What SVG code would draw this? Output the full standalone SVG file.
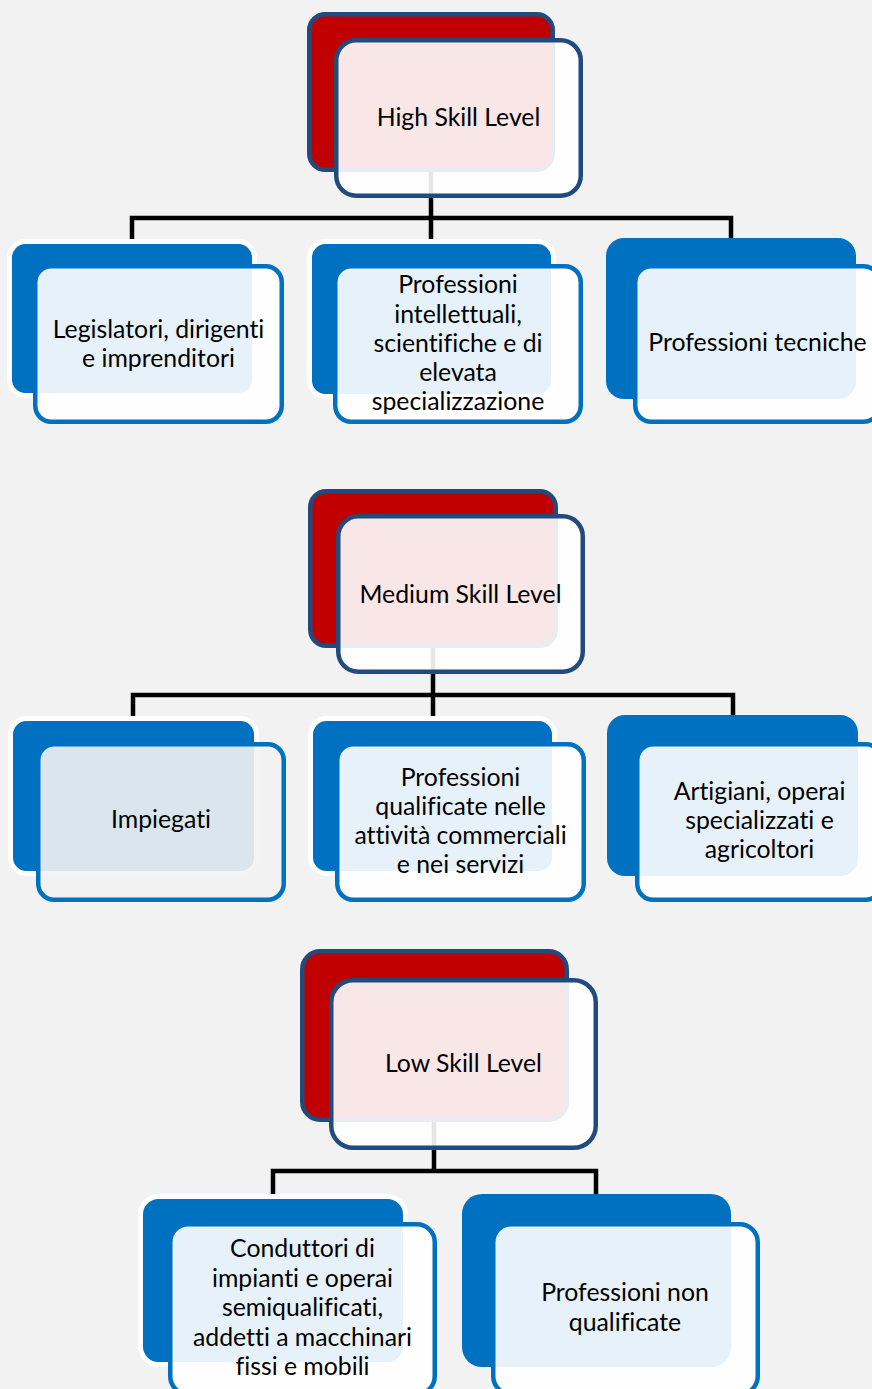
<svg xmlns="http://www.w3.org/2000/svg" width="872" height="1389" viewBox="0 0 872 1389">
<style>
.bg{fill:#f2f2f2}
.conn{fill:none;stroke:#000;stroke-width:4.5;stroke-linejoin:miter}
.hb{fill:#c00000;stroke:#234a7c;stroke-width:4.5}
.hf{fill:#fff;fill-opacity:0.9;stroke:#234a7c;stroke-width:4.5}
.cb{fill:#0070c0;stroke:#fff;stroke-width:5}
.cb2{fill:#0070c0}
.cf{fill:#fff;fill-opacity:0.9;stroke:#0070c0;stroke-width:4.5}
.cfg{fill:#f2f2f2;fill-opacity:0.9;stroke:#0070c0;stroke-width:4.5}
text{font-family:Lato,"Liberation Sans",sans-serif;font-size:24.8px;fill:#000;text-anchor:middle;font-variant-ligatures:none}
</style>
<rect class="bg" x="0" y="0" width="872" height="1389"/>
<g id="connectors">
<path class="conn" d="M431 172V218H132V242M431 218V242M431 218H731V238"/>
<path class="conn" d="M433 648V695H133V719M433 695V719M433 695H733V715"/>
<path class="conn" d="M434 1122V1171H273V1197M434 1171H596V1194"/>
</g>
<g id="high">
<rect class="hb" x="309.25" y="14.25" width="243.5" height="155.5" rx="16"/>
<rect class="hf" x="336.25" y="40.25" width="244.5" height="155.5" rx="20"/>
<text x="458.5" y="126">High Skill Level</text>
</g>
<g id="legislatori">
<rect class="cb" x="9.5" y="241.5" width="245" height="154" rx="16"/>
<rect class="cf" x="35.25" y="266.25" width="246.5" height="155.5" rx="16"/>
<text x="158.5" y="338">Legislatori, dirigenti</text>
<text x="158.5" y="367">e imprenditori</text>
</g>
<g id="intellettuali">
<rect class="cb" x="309.5" y="241.5" width="244" height="155" rx="16"/>
<rect class="cf" x="335.25" y="266.25" width="245.5" height="155.5" rx="16"/>
<text x="458" y="293">Professioni</text>
<text x="458" y="323">intellettuali,</text>
<text x="458" y="352">scientifiche e di</text>
<text x="458" y="381">elevata</text>
<text x="458" y="410">specializzazione</text>
</g>
<g id="tecniche">
<rect class="cb2" x="606" y="238" width="250" height="161" rx="18"/>
<rect class="cf" x="635.25" y="266.25" width="244.5" height="155.5" rx="16"/>
<text x="757.5" y="351">Professioni tecniche</text>
</g>
<g id="medium">
<rect class="hb" x="310.25" y="491.25" width="245.5" height="154.5" rx="16"/>
<rect class="hf" x="338.25" y="516.25" width="244.5" height="155.5" rx="20"/>
<text x="460.5" y="603">Medium Skill Level</text>
</g>
<g id="impiegati">
<rect class="cb" x="10.5" y="718.5" width="246" height="155" rx="16"/>
<rect class="cfg" x="38.25" y="744.25" width="245.5" height="155.5" rx="16"/>
<text x="161" y="828">Impiegati</text>
</g>
<g id="qualificate">
<rect class="cb" x="310.5" y="718.5" width="244" height="155" rx="16"/>
<rect class="cf" x="337.25" y="744.25" width="246.5" height="155.5" rx="16"/>
<text x="460.5" y="786">Professioni</text>
<text x="460.5" y="815">qualificate nelle</text>
<text x="460.5" y="844">attività commerciali</text>
<text x="460.5" y="873">e nei servizi</text>
</g>
<g id="artigiani">
<rect class="cb2" x="607" y="715" width="251" height="161" rx="18"/>
<rect class="cf" x="637.25" y="744.25" width="244.5" height="155.5" rx="16"/>
<text x="759.5" y="800">Artigiani, operai</text>
<text x="759.5" y="829">specializzati e</text>
<text x="759.5" y="858">agricoltori</text>
</g>
<g id="low">
<rect class="hb" x="302.25" y="951.25" width="264.5" height="168.5" rx="18"/>
<rect class="hf" x="331.25" y="980.25" width="264.5" height="167.5" rx="22"/>
<text x="463.5" y="1072">Low Skill Level</text>
</g>
<g id="conduttori">
<rect class="cb" x="140.5" y="1196.5" width="265" height="168" rx="18"/>
<rect class="cf" x="170.25" y="1224.25" width="264.5" height="170" rx="18"/>
<text x="302.5" y="1257">Conduttori di</text>
<text x="302.5" y="1287">impianti e operai</text>
<text x="302.5" y="1316">semiqualificati,</text>
<text x="302.5" y="1346">addetti a macchinari</text>
<text x="302.5" y="1375">fissi e mobili</text>
</g>
<g id="nonqualificate">
<rect class="cb2" x="462" y="1194" width="269" height="173" rx="20"/>
<rect class="cf" x="493.25" y="1224.25" width="264.5" height="170" rx="18"/>
<text x="625" y="1301">Professioni non</text>
<text x="625" y="1331">qualificate</text>
</g>
</svg>
